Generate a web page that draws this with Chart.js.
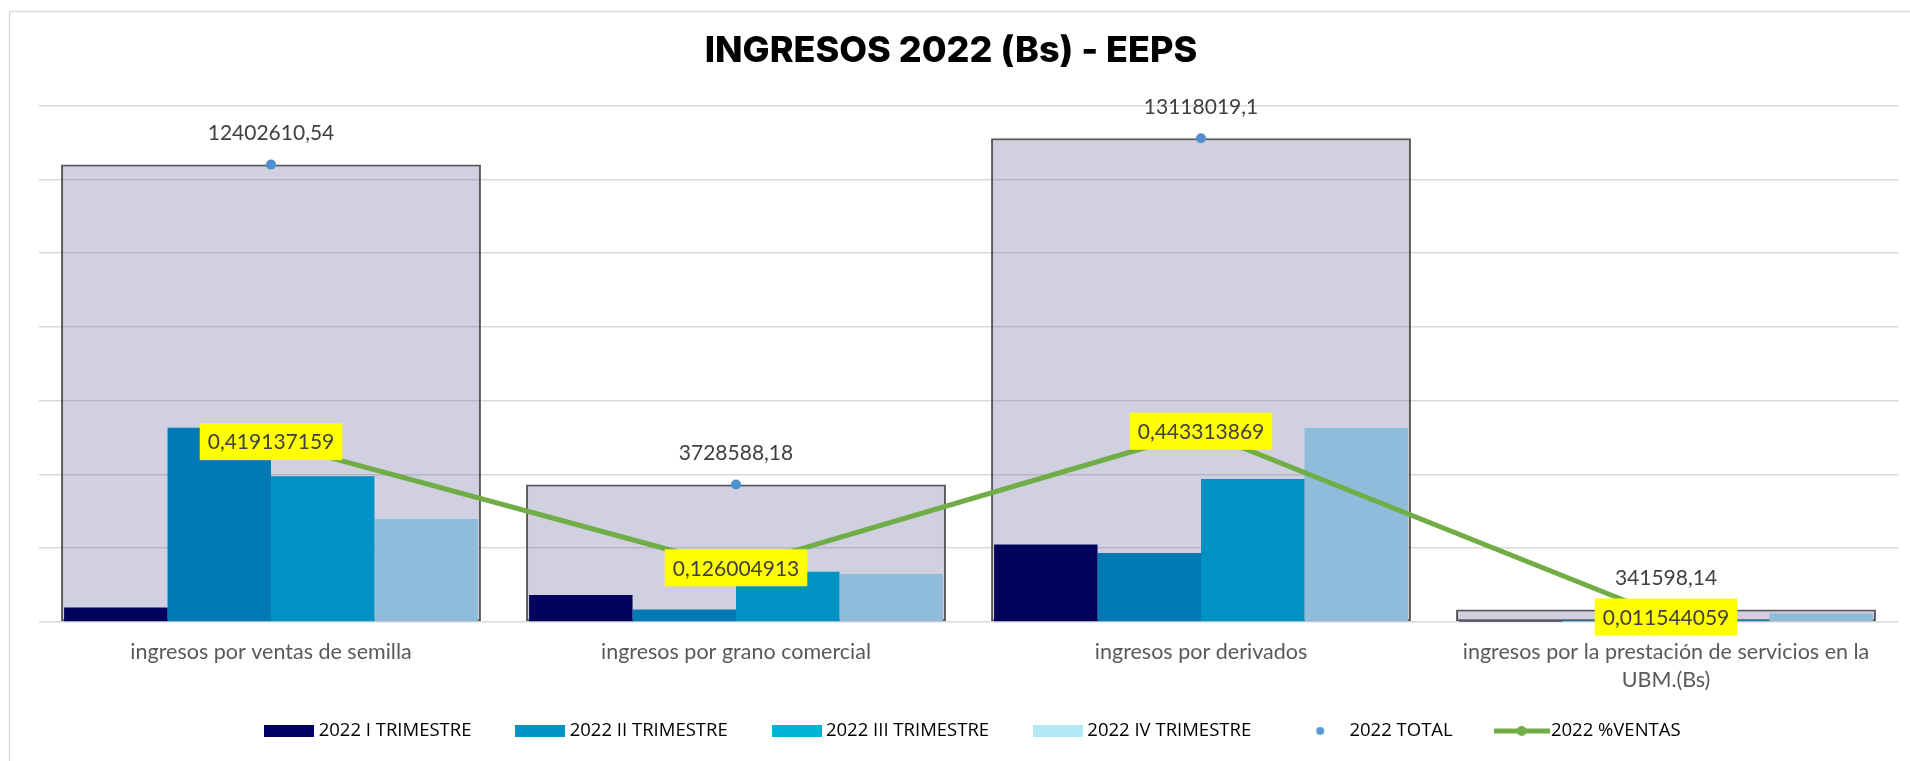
<!DOCTYPE html>
<html>
<head>
<meta charset="utf-8">
<title>INGRESOS 2022 (Bs) - EEPS</title>
<script src="https://cdn.jsdelivr.net/npm/chart.js@4"></script>
<style>
  html, body { margin: 0; padding: 0; background: #fff; }
  canvas { display: block; }
</style>
</head>
<body>
<canvas id="ingresosChart" width="1910" height="761"></canvas>
<script>
// datos
const categorias = [
  'ingresos por ventas de semilla',
  'ingresos por grano comercial',
  'ingresos por derivados',
  ['ingresos por la prestación de servicios en la', 'UBM.(Bs)']
];
const trimestre1 = [390000, 730000, 2100000, 10000];
const trimestre2 = [5270000, 340000, 1870000, 40000];
const trimestre3 = [3950000, 1360000, 3880000, 50000];
const trimestre4 = [2790000, 1300000, 5260000, 240000];
const total2022 = [12402610.54, 3728588.18, 13118019.1, 341598.14];
const ventas2022 = [0.419137159, 0.126004913, 0.443313869, 0.011544059];
const nombresSeries = ['2022 I TRIMESTRE', '2022 II TRIMESTRE', '2022 III TRIMESTRE', '2022 IV TRIMESTRE', '2022 TOTAL', '2022 %VENTAS'];

const coloresBarras = ['#03035E', '#0079B5', '#0092C3', '#8FBCDA'];
const coloresLeyenda = ['#000066', '#0093C8', '#00B4D8', '#B2E8F4'];
const FUENTE = 'Lato, "Open Sans", sans-serif';
const PAD_INF = -30;

const fmt = v => String(v).replace('.', ',');

function muestra(w, h, dibujar) {
  const c = document.createElement('canvas');
  c.width = w; c.height = h;
  dibujar(c.getContext('2d'));
  return c;
}

const marcadores = [
  ...coloresLeyenda.map(col => muestra(50, 12, g => { g.fillStyle = col; g.fillRect(0, 0, 50, 12); })),
  muestra(50, 10, g => { g.fillStyle = '#5B9BD5'; g.beginPath(); g.arc(25, 5, 4, 0, Math.PI * 2); g.fill(); }),
  muestra(56, 12, g => {
    g.strokeStyle = '#70AD47'; g.lineWidth = 5;
    g.beginPath(); g.moveTo(0, 6); g.lineTo(56, 6); g.stroke();
    g.fillStyle = '#70AD47'; g.beginPath(); g.arc(28, 6, 5, 0, Math.PI * 2); g.fill();
  })
];

// marco, etiquetas de datos y posicion de titulo / leyenda
const marco = {
  id: 'marco',
  beforeDraw(chart) {
    const ctx = chart.ctx;
    ctx.save();
    ctx.fillStyle = '#fff';
    ctx.fillRect(0, 0, chart.width, chart.height);
    ctx.strokeStyle = '#D9D9D9';
    ctx.lineWidth = 1.5;
    ctx.strokeRect(9.5, 11.5, 2000, 1000);
    ctx.restore();
  },
  afterLayout(chart) {
    const lg = chart.legend;
    const p = lg.options.labels.padding;
    const fs = lg.options.labels.font.size;
    const dy = 731 - (lg.top + p + fs / 2);
    lg.top += dy; lg.bottom += dy;
    const dx = 975 - (lg.left + lg.right) / 2;
    lg.left += dx; lg.right += dx;
    const tb = chart.titleBlock;
    const tx = 951 - (tb.left + tb.right) / 2;
    tb.left += tx; tb.right += tx;
  }
};

const etiquetas = {
  id: 'etiquetas',
  afterDatasetsDraw(chart) {
    const ctx = chart.ctx;
    ctx.save();
    ctx.font = '21px ' + FUENTE;
    ctx.textAlign = 'center';
    ctx.textBaseline = 'middle';
    chart.getDatasetMeta(5).data.forEach((pt, i) => {
      ctx.fillStyle = '#404040';
      ctx.fillText(fmt(total2022[i]), pt.x, pt.y - 31);
    });
    chart.getDatasetMeta(6).data.forEach((pt, i) => {
      const txt = fmt(ventas2022[i]);
      const w = ctx.measureText(txt).width + 16;
      ctx.fillStyle = '#FFFF00';
      ctx.fillRect(pt.x - w / 2, pt.y - 18.5, w, 37);
      ctx.fillStyle = '#404040';
      ctx.fillText(txt, pt.x, pt.y + 1);
    });
    ctx.restore();
  }
};

const barraTrimestre = (i, datos) => ({
  type: 'bar',
  label: nombresSeries[i],
  data: datos,
  backgroundColor: coloresBarras[i],
  borderWidth: 0,
  categoryPercentage: 0.89,
  barPercentage: 1.0,
  yAxisID: 'y',
  order: 5
});

const ctx = document.getElementById('ingresosChart').getContext('2d');
const grafico = new Chart(ctx, {
  data: {
    labels: categorias,
    datasets: [
      barraTrimestre(0, trimestre1),
      barraTrimestre(1, trimestre2),
      barraTrimestre(2, trimestre3),
      barraTrimestre(3, trimestre4),
      {
        type: 'bar',
        label: 'total (caja)',
        data: total2022,
        grouped: false,
        categoryPercentage: 1.0,
        barPercentage: 0.903,
        backgroundColor: 'rgba(108,108,158,0.32)',
        borderColor: '#595959',
        borderWidth: 2,
        borderSkipped: false,
        yAxisID: 'y',
        order: 10
      },
      {
        type: 'line',
        label: nombresSeries[4],
        data: total2022,
        showLine: false,
        pointRadius: 5,
        pointBorderWidth: 0,
        pointBackgroundColor: '#4F8FD0',
        yAxisID: 'y',
        order: 1
      },
      {
        type: 'line',
        label: nombresSeries[5],
        data: ventas2022,
        borderColor: '#70AD47',
        borderWidth: 5,
        pointRadius: 5,
        pointBackgroundColor: '#70AD47',
        pointBorderWidth: 0,
        yAxisID: 'y2',
        order: 2
      }
    ]
  },
  options: {
    responsive: false,
    animation: false,
    layout: { padding: { left: 38.5, right: 11.5, top: 0, bottom: PAD_INF } },
    plugins: {
      title: {
        display: true,
        text: 'INGRESOS 2022 (Bs) - EEPS',
        color: '#000',
        font: { family: 'Inter, "Open Sans", sans-serif', size: 36, weight: 800, lineHeight: 1.2 },
        padding: { top: 30, bottom: 32.5 }
      },
      legend: {
        position: 'bottom',
        labels: {
          usePointStyle: true,
          pointStyleWidth: 40,
          padding: 49,
          color: '#595959',
          font: { family: '"Open Sans", Lato, sans-serif', size: 18.5 },
          generateLabels: () => nombresSeries.map((t, i) => ({
            text: t,
            fillStyle: 'transparent',
            strokeStyle: 'transparent',
            lineWidth: 0,
            pointStyle: marcadores[i],
            hidden: false,
            datasetIndex: i < 4 ? i : i + 1
          }))
        }
      },
      tooltip: { enabled: false }
    },
    scales: {
      x: {
        grid: { display: false, drawTicks: false },
        border: { display: false },
        ticks: {
          color: '#595959',
          font: { family: FUENTE, size: 21.5, lineHeight: 1.26 },
          padding: 17,
          autoSkip: false,
          maxRotation: 0
        },
        afterFit: s => { s.height = 761 - PAD_INF - 622 - s.chart.legend.height; }
      },
      y: {
        min: 0,
        max: 14000000,
        ticks: { display: false, stepSize: 2000000 },
        grid: { color: '#D9D9D9', lineWidth: 1.5, drawTicks: false },
        border: { display: false }
      },
      y2: {
        display: false,
        position: 'right',
        min: 0,
        max: 1.2
      }
    }
  },
  plugins: [marco, etiquetas]
});
</script>
</body>
</html>
